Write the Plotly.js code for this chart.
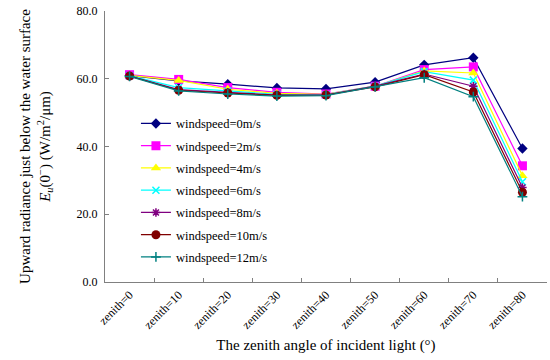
<!DOCTYPE html>
<html>
<head>
<meta charset="utf-8">
<script src="https://cdn.plot.ly/plotly-3.0.1.min.js"></script>
<style>html,body{margin:0;padding:0;background:#fff;}#chart{width:550px;height:360px;}</style>
</head>
<body>
<div id="chart"></div>
<script>
const categories = ["zenith=0","zenith=10","zenith=20","zenith=30","zenith=40","zenith=50","zenith=60","zenith=70","zenith=80"];
const seriesNames = ["windspeed=0m/s","windspeed=2m/s","windspeed=4m/s","windspeed=6m/s","windspeed=8m/s","windspeed=10m/s","windspeed=12m/s"];
const ws0  = [60.9, 59.4, 58.4, 57.3, 57.0, 59.0, 64.1, 66.2, 39.4];
const ws2  = [61.2, 59.8, 57.4, 56.0, 55.5, 57.8, 62.7, 63.5, 34.3];
const ws4  = [61.0, 59.5, 56.9, 55.7, 55.4, 57.8, 62.3, 61.7, 31.4];
const ws6  = [60.9, 57.4, 56.4, 55.4, 55.3, 57.8, 62.1, 59.6, 29.6];
const ws8  = [60.8, 56.8, 56.0, 55.2, 55.2, 57.8, 61.4, 57.8, 27.9];
const ws10 = [60.8, 56.6, 55.8, 55.1, 55.2, 57.6, 61.2, 56.1, 26.5];
const ws12 = [60.7, 56.4, 55.5, 54.9, 55.0, 57.6, 60.3, 54.7, 25.2];
const yTicks = [0, 20, 40, 60, 80];

const allSeries = [ws0, ws2, ws4, ws6, ws8, ws10, ws12];
const colors = ["#000080","#FF00FF","#FFFF00","#00FFFF","#800080","#800000","#008080"];
const symbols = ["diamond","square","triangle-up","x-thin-open","asterisk-open","circle","cross-thin-open"];
const sizes = [8, 9, 9, 7, 7, 9, 7];

const SERIF = "'Liberation Serif', 'Times New Roman', serif";

const traces = allSeries.map((vals, i) => ({
  type: "scatter",
  mode: "lines+markers",
  x: categories,
  y: vals,
  name: seriesNames[i],
  legendgroup: "g" + i,
  line: {color: colors[i], width: 1.2},
  marker: {color: colors[i], symbol: symbols[i], size: sizes[i], line: {color: colors[i], width: (i===3||i===4||i===6)?1.5:0}}
}));

const layout = {
  width: 550, height: 360,
  margin: {l: 105, r: 3, t: 11, b: 78},
  paper_bgcolor: "#fff", plot_bgcolor: "#fff",
  font: {family: SERIF, color: "#000", size: 12},
  showlegend: true,
  legend: {x: 0.07, y: 0.639, xanchor: "left", yanchor: "top", bgcolor: "rgba(0,0,0,0)",
           traceorder: "grouped", tracegroupgap: 3,
           font: {family: SERIF, size: 12.5, color: "#000"}},
  xaxis: {
    type: "category", range: [-0.5, 8.5], tickson: "boundaries",
    ticks: "inside", ticklen: 4, tickcolor: "#808080",
    showline: true, linecolor: "#808080", linewidth: 1,
    showgrid: false, zeroline: false, tickangle: -45,
    tickfont: {family: SERIF, size: 12},
    title: {text: "The zenith angle of incident light (°)", font: {family: SERIF, size: 15}, standoff: 8}
  },
  yaxis: {
    range: [0, 80], tickvals: yTicks, tickformat: ".1f",
    ticks: "inside", ticklen: 4, tickcolor: "#808080",
    showline: true, linecolor: "#808080", linewidth: 1,
    showgrid: false, zeroline: false,
    tickfont: {family: SERIF, size: 12}, ticklabelstandoff: 4,
    title: {text: "Upward radiance just below the water surface<br><i>E<sub>u</sub></i>(0<sup>−</sup>) (W/m<sup>2</sup>/μm)", font: {family: SERIF, size: 15}, standoff: 22}
  }
};

Plotly.newPlot("chart", traces, layout, {displayModeBar: false, staticPlot: true});
</script>
</body>
</html>
